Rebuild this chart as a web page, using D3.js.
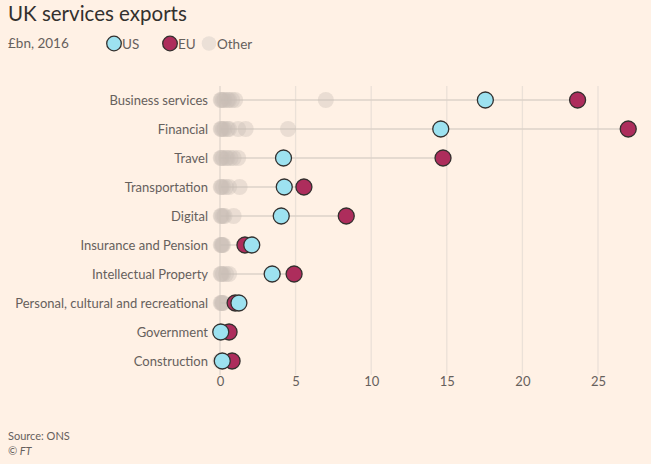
<!DOCTYPE html>
<html>
<head>
<meta charset="utf-8">
<script src="https://cdn.jsdelivr.net/npm/d3@7"></script>
<style>
  html, body { margin: 0; padding: 0; background: #fff1e5; }
  svg { display: block; font-family: Lato, "Noto Sans", sans-serif; }
</style>
</head>
<body>
<svg id="chart" width="651" height="464"></svg>
<script>
const categories = ["Business services", "Financial", "Travel", "Transportation", "Digital",
  "Insurance and Pension", "Intellectual Property", "Personal, cultural and recreational",
  "Government", "Construction"];
const usValues = [17.55, 14.6, 4.2, 4.25, 4.05, 2.1, 3.45, 1.25, 0.05, 0.15];
const euValues = [23.65, 27.0, 14.75, 5.55, 8.35, 1.65, 4.9, 1.0, 0.6, 0.8];
const otherValues = [
  [0.05, 0.1, 0.2, 0.3, 0.5, 0.6, 0.8, 1.0, 7.0],
  [0.05, 0.1, 0.2, 0.3, 0.5, 0.6, 1.2, 1.7, 4.5],
  [0.05, 0.1, 0.2, 0.4, 0.5, 0.7, 0.9, 1.2],
  [0.05, 0.1, 0.2, 0.4, 0.6, 1.3],
  [0.05, 0.1, 0.2, 0.3, 0.9],
  [0.05, 0.1, 0.15, 0.2],
  [0.05, 0.1, 0.2, 0.4, 0.6],
  [0.05, 0.1, 0.15, 0.2],
  [0.02],
  [0.02]
];
const xTicks = [0, 5, 10, 15, 20, 25];

const svg = d3.select("#chart");
const x = d3.scaleLinear().domain([0, 25]).range([220, 598]);
const y = d3.scalePoint().domain(categories).range([100, 361]);

// title & subtitle
svg.append("text").attr("x", 8).attr("y", 21).attr("font-size", 20.5)
  .attr("fill", "#33302e").text("UK services exports");
svg.append("text").attr("x", 8).attr("y", 48).attr("font-size", 13.5)
  .attr("fill", "#66605c").text("£bn, 2016");

// legend
const legend = [
  {label: "US", fill: "#9de2f0", stroke: "#33302e", x: 114},
  {label: "EU", fill: "#ad2d5c", stroke: "#33302e", x: 170},
  {label: "Other", fill: "#ebe0d7", stroke: "none", x: 209}
];
const lg = svg.append("g");
legend.forEach(d => {
  lg.append("circle").attr("cx", d.x).attr("cy", 43.5).attr("r", 7.3)
    .attr("fill", d.fill).attr("stroke", d.stroke).attr("stroke-width", 1.3);
  lg.append("text").attr("x", d.x + 8).attr("y", 48.5).attr("font-size", 13.5)
    .attr("fill", "#66605c").text(d.label);
});

// grid
const grid = svg.append("g");
grid.selectAll("line").data(xTicks).join("line")
  .attr("x1", d => x(d)).attr("x2", d => x(d))
  .attr("y1", 86).attr("y2", 375)
  .attr("stroke", d => d === 0 ? "#e0d6cd" : "#ebe1d8").attr("stroke-width", 1.3);

// x axis labels
const xAxis = d3.axisBottom(x).tickValues(xTicks).tickSize(0).tickPadding(0);
const gx = svg.append("g").attr("transform", "translate(0,377)").call(xAxis);
gx.select(".domain").remove();
gx.selectAll("text").attr("font-size", 13).attr("fill", "#66605c")
  .attr("font-family", "Lato, 'Noto Sans', sans-serif").attr("dy", "0.71em");

// y axis labels
const yAxis = d3.axisLeft(y).tickSize(0).tickPadding(0);
const gy = svg.append("g").attr("transform", "translate(208,0)").call(yAxis);
gy.select(".domain").remove();
gy.selectAll("text").attr("font-size", 13).attr("fill", "#66605c")
  .attr("font-family", "Lato, 'Noto Sans', sans-serif");

// rows
const rows = categories.map((c, i) => ({
  cat: c, us: usValues[i], eu: euValues[i], other: otherValues[i],
  min: d3.min([usValues[i], euValues[i], ...otherValues[i]]),
  max: d3.max([usValues[i], euValues[i], ...otherValues[i]])
}));

svg.append("g").selectAll("line").data(rows).join("line")
  .attr("x1", d => x(d.min)).attr("x2", d => x(d.max))
  .attr("y1", d => y(d.cat)).attr("y2", d => y(d.cat))
  .attr("stroke", "#dcd2c9").attr("stroke-width", 1.3);

const otherPts = rows.flatMap(d => d.other.map(v => ({cat: d.cat, v})));
svg.append("g").selectAll("circle").data(otherPts).join("circle")
  .attr("cx", d => x(d.v)).attr("cy", d => y(d.cat)).attr("r", 8)
  .attr("fill", "#c9beb5").attr("fill-opacity", 0.38);

svg.append("g").selectAll("circle").data(rows).join("circle")
  .attr("cx", d => x(d.eu)).attr("cy", d => y(d.cat)).attr("r", 8)
  .attr("fill", "#ad2d5c").attr("stroke", "#33302e").attr("stroke-width", 1.3);

svg.append("g").selectAll("circle").data(rows).join("circle")
  .attr("cx", d => x(d.us)).attr("cy", d => y(d.cat)).attr("r", 8)
  .attr("fill", "#9de2f0").attr("stroke", "#33302e").attr("stroke-width", 1.3);

// footer
svg.append("text").attr("x", 8).attr("y", 440).attr("font-size", 11)
  .attr("fill", "#66605c").text("Source: ONS");
svg.append("text").attr("x", 8).attr("y", 455).attr("font-size", 11)
  .attr("font-style", "italic").attr("fill", "#66605c").text("© FT");
</script>
</body>
</html>
